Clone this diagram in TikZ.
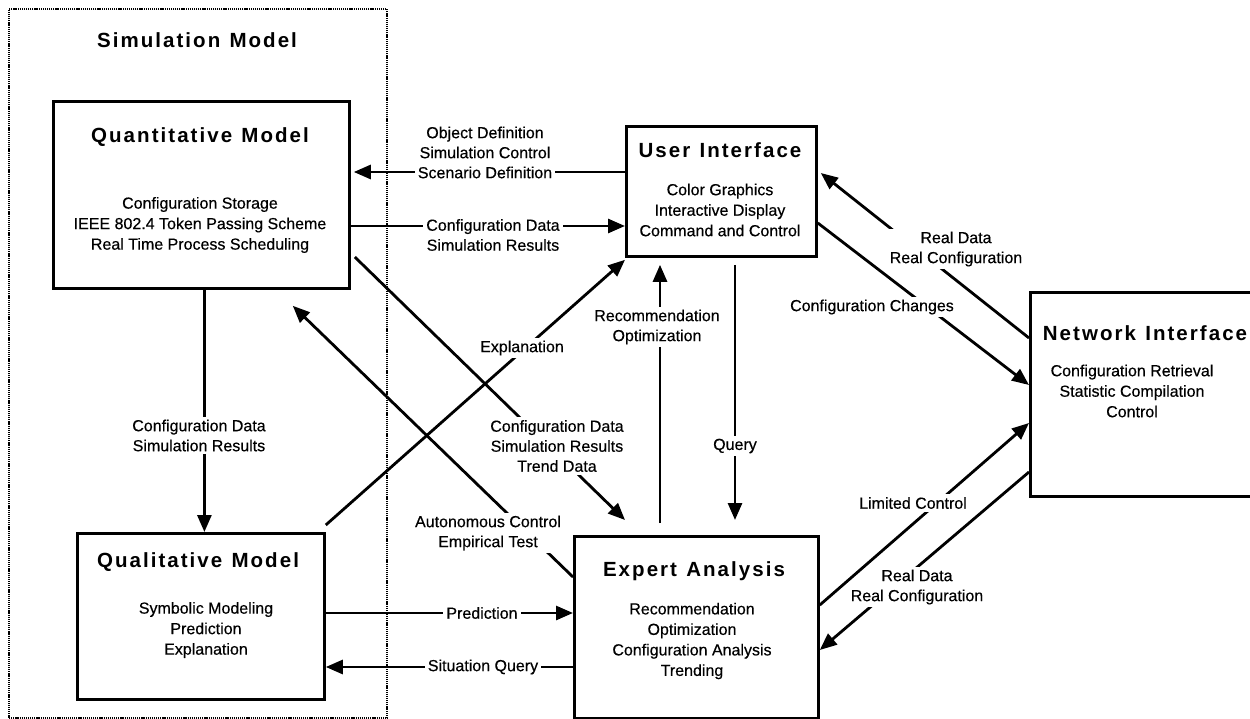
\documentclass[tikz,border=0pt]{standalone}
\usepackage{fontspec}
\setmainfont{Liberation Sans}[FakeBold=0.4]
\newfontfamily\titlefamily[LetterSpace=10]{Liberation Sans}
\usetikzlibrary{arrows.meta,calc}
\newcommand\wsp{\hspace{0.45em}}
\begin{document}
\begin{tikzpicture}[x=1pt,y=-1pt,
  boxstyle/.style={draw=black, line width=2.8pt, inner sep=0pt, anchor=north west},
  outerbox/.style={draw=black, line width=2pt, dash pattern=on 1.2pt off 0.9pt, inner sep=0pt, anchor=north west},
  ttl/.style={font=\titlefamily\bfseries\fontsize{20.5}{24}\selectfont, inner sep=0pt},
  body/.style={font=\fontsize{16}{20.5}\selectfont, align=center, inner sep=0pt},
  lbl/.style={font=\fontsize{16}{20}\selectfont, align=center, fill=white, inner sep=3pt},
  conn/.style={line width=2.8pt},
  arr/.style={conn, -{Triangle[length=17pt,width=14pt]}}]
\useasboundingbox (0,0) rectangle (1250,719);
\fill[white] (0,0) rectangle (1250,719);

% boxes
\node[outerbox, minimum width=378pt, minimum height=709pt] (sim) at (8,8) {};
\node[ttl] (simtitle) at (197,40) {Simulation\wsp Model};

\node[boxstyle, minimum width=296pt, minimum height=187pt] (qm) at (52,100) {};
\node[ttl] (qmtitle) at (200,137) {Quantitative\wsp Model};
\node[body] (qmbody) at (200,225) {Configuration Storage\\IEEE 802.4 Token Passing Scheme\\Real Time Process Scheduling};

\node[boxstyle, minimum width=247pt, minimum height=166pt] (qlm) at (76,532) {};
\node[ttl] (qlmtitle) at (198,562) {Qualitative\wsp Model};
\node[body] (qlmbody) at (206,630) {Symbolic Modeling\\Prediction\\Explanation};

\node[boxstyle, minimum width=190pt, minimum height=130pt] (ui) at (625,125) {};
\node[ttl] (uititle) at (720,150) {User\wsp Interface};
\node[body] (uibody) at (720,210) {Color Graphics\\Interactive Display\\Command and Control};

\node[boxstyle, minimum width=244pt, minimum height=182pt] (ea) at (573,535) {};
\node[ttl] (eatitle) at (694,571) {Expert\wsp Analysis};
\node[body] (eabody) at (692,641) {Recommendation\\Optimization\\Configuration Analysis\\Trending};

\node[boxstyle, minimum width=240pt, minimum height=204pt] (ni) at (1029,291) {};
\node[ttl] (nititle) at (1145,333) {Network\wsp Interface};
\node[body] (nibody) at (1132,391) {Configuration Retrieval\\Statistic Compilation\\Control};

% connectors
\draw[arr] ($(ui.north west)+(0,47)$) -- ($(qm.north east)+(3,72)$);
\draw[arr] ($(qm.north east)+(0,126)$) -- ($(ui.north west)+(0,101)$);
\draw[arr] ($(qm.south)+(3,0)$) -- ($(qlm.north)+(3.5,0)$);
\draw[arr] ($(qlm.north east)+(0,-7)$) -- ($(ui.south west)+(0,2)$);
\draw[arr] ($(qm.north east)+(4,157)$) -- ($(ea.north west)+(52,-15)$);
\draw[arr] ($(ea.north west)+(0,42)$) -- ($(qm.south east)+(-58,16)$);
\draw[arr] ($(qlm.north east)+(0,81)$) -- ($(ea.north west)+(0,78)$);
\draw[arr] ($(ea.north west)+(0,132)$) -- ($(qlm.north east)+(0,135)$);
\draw[arr] ($(ea.north west)+(87,-12)$) -- ($(ui.south west)+(35,7)$);
\draw[arr] ($(ui.south west)+(110,7)$) -- ($(ea.north west)+(162,-15)$);
\draw[arr] ($(ni.north west)+(0,47)$) -- ($(ui.north east)+(3,48)$);
\draw[arr] ($(ui.north east)+(0,98)$) -- ($(ni.north west)+(0,94)$);
\draw[arr] ($(ni.north west)+(0,181)$) -- ($(ea.north east)+(0,115)$);

% labels
\node[lbl] (l1) at (485,152.5) {Object Definition\\Simulation Control\\Scenario Definition};
\node[lbl] (l2) at (493,235) {Configuration Data\\Simulation Results};
\node[lbl] (l3) at (199,435.5) {Configuration Data\\Simulation Results};
\node[lbl] (l4) at (522,348) {Explanation};
\node[lbl] (l5) at (557,446) {Configuration Data\\Simulation Results\\Trend Data};
\node[lbl] (l6) at (488,533) {Autonomous Control\\Empirical Test};
\node[lbl] (l7) at (482,613) {Prediction};
\node[lbl] (l8) at (483,667) {Situation Query};
\node[lbl] (l9) at (657,327) {Recommendation\\Optimization};
\node[lbl] (l10) at (735,446) {Query};
\node[lbl] (l11) at (956,249) {Real Data\\Real Configuration};
\node[lbl] (l12) at (872,307) {Configuration Changes};
\node[lbl] (l14) at (917,587) {Real Data\\Real Configuration};

\draw[arr] ($(ea.north east)+(0,70)$) -- ($(ni.north west)+(0,132)$);
\node[lbl] (l13) at (913,503) {Limited Control};
\end{tikzpicture}
\end{document}
